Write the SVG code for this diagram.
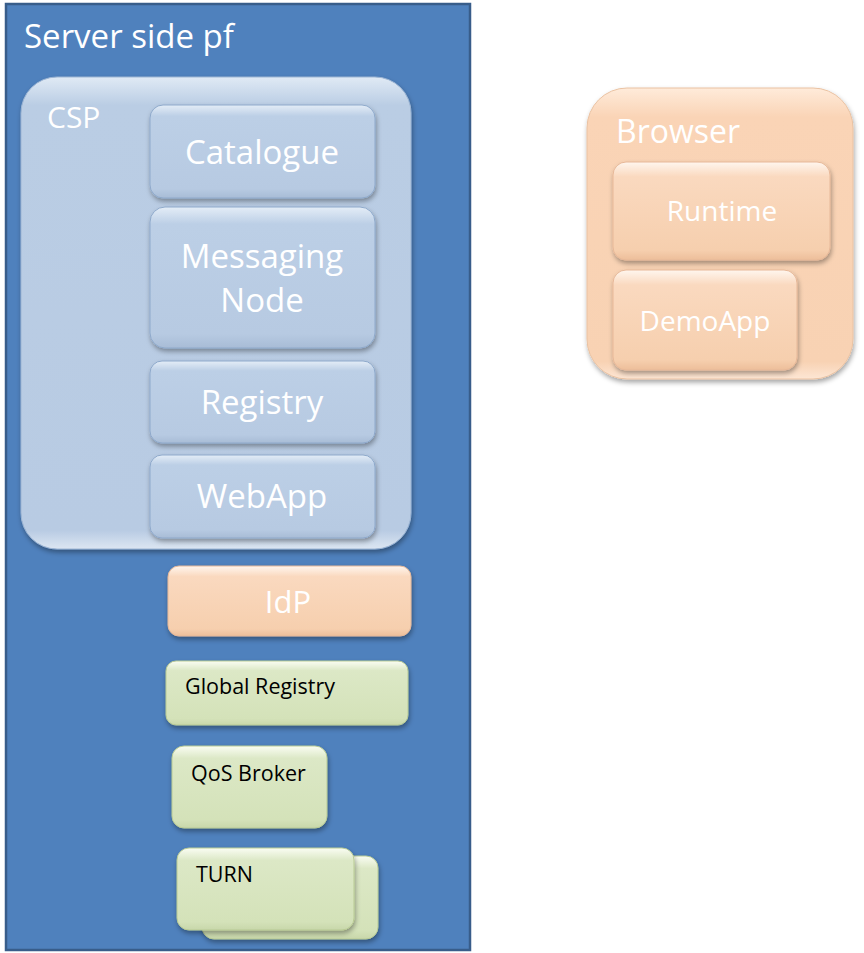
<svg xmlns="http://www.w3.org/2000/svg" width="864" height="953" viewBox="0 0 864 953">
<defs>
<style>
.t{font-family:"Open Sans","Noto Sans","Liberation Sans",sans-serif;fill:#fff}
.k{font-family:"Open Sans","Noto Sans","Liberation Sans",sans-serif;fill:#000;font-size:21.5px}
.blue{fill:url(#gb);stroke:#8EA9CB;stroke-width:1}
.peach{fill:url(#gp);stroke:#E7B898;stroke-width:1}
.green{fill:url(#gg);stroke:#B9CB94;stroke-width:1}
</style>
<linearGradient id="gb" x1="0" y1="0" x2="0" y2="1">
<stop offset="0" stop-color="#E4EDF7"/><stop offset="0.12" stop-color="#BCCFE6"/><stop offset="0.9" stop-color="#B7CAE2"/><stop offset="1" stop-color="#A8BCD6"/>
</linearGradient>
<linearGradient id="gp" x1="0" y1="0" x2="0" y2="1">
<stop offset="0" stop-color="#FFF6EE"/><stop offset="0.15" stop-color="#FAD9BF"/><stop offset="0.9" stop-color="#F6CFAE"/><stop offset="1" stop-color="#EDBE9A"/>
</linearGradient>
<linearGradient id="gg" x1="0" y1="0" x2="0" y2="1">
<stop offset="0" stop-color="#FAFDF3"/><stop offset="0.15" stop-color="#DCE8C6"/><stop offset="0.9" stop-color="#D4E2B9"/><stop offset="1" stop-color="#C8D7AA"/>
</linearGradient>
<linearGradient id="gcsp" x1="0" y1="0" x2="0" y2="1">
<stop offset="0" stop-color="#E0EAF5"/><stop offset="0.06" stop-color="#BACDE4"/><stop offset="0.96" stop-color="#B8CBE3"/><stop offset="1" stop-color="#DCE6F2"/>
</linearGradient>
<linearGradient id="gbr" x1="0" y1="0" x2="0" y2="1">
<stop offset="0" stop-color="#FFEBDA"/><stop offset="0.1" stop-color="#FAD4B6"/><stop offset="0.94" stop-color="#F8D2B3"/><stop offset="1" stop-color="#FDE6D4"/>
</linearGradient>
<filter id="sh" x="-10%" y="-10%" width="120%" height="130%">
<feDropShadow dx="1" dy="3" stdDeviation="2.5" flood-color="#000" flood-opacity="0.35"/>
</filter>
</defs>

<g id="server">
<rect x="6" y="4" width="464" height="946" fill="#4F81BD" stroke="#385D8A" stroke-width="2.5"/>
<text class="t" x="24" y="48" font-size="33">Server side pf</text>
</g>

<g id="csp">
<rect x="21" y="77" width="390" height="472" rx="36" fill="url(#gcsp)" stroke="#9DB5D3" filter="url(#sh)"/>
<text class="t" x="47" y="128" font-size="30">CSP</text>
</g>

<g id="catalogue">
<rect class="blue" x="150" y="105" width="225" height="93" rx="13" filter="url(#sh)"/>
<text class="t" x="262" y="164" font-size="33" text-anchor="middle">Catalogue</text>
</g>

<g id="messaging">
<rect class="blue" x="150" y="207" width="225" height="141" rx="15" filter="url(#sh)"/>
<text class="t" x="262" y="268" font-size="33" text-anchor="middle">Messaging</text>
<text class="t" x="262" y="312" font-size="33" text-anchor="middle">Node</text>
</g>

<g id="registry">
<rect class="blue" x="150" y="361" width="225" height="82" rx="12" filter="url(#sh)"/>
<text class="t" x="262" y="414" font-size="33" text-anchor="middle">Registry</text>
</g>

<g id="webapp">
<rect class="blue" x="150" y="455" width="225" height="83" rx="12" filter="url(#sh)"/>
<text class="t" x="262" y="508" font-size="33" text-anchor="middle">WebApp</text>
</g>

<g id="idp">
<rect class="peach" x="168" y="566" width="243" height="70" rx="11" filter="url(#sh)"/>
<text class="t" x="288" y="613" font-size="31" text-anchor="middle">IdP</text>
</g>

<g id="globalregistry">
<rect class="green" x="166" y="661" width="242" height="64" rx="10" filter="url(#sh)"/>
<text class="k" x="185" y="694">Global Registry</text>
</g>

<g id="qos">
<rect class="green" x="172" y="746" width="155" height="82" rx="12" filter="url(#sh)"/>
<text class="k" x="191" y="781">QoS Broker</text>
</g>

<g id="turn">
<rect class="green" x="202" y="856" width="176" height="83" rx="12" filter="url(#sh)"/>
<rect class="green" x="177" y="848" width="177" height="82" rx="12" filter="url(#sh)"/>
<text class="k" x="196" y="882">TURN</text>
</g>

<g id="browser">
<rect x="587" y="88" width="266" height="291" rx="40" fill="url(#gbr)" stroke="#EAC2A2" filter="url(#sh)"/>
<text class="t" x="616" y="143" font-size="32">Browser</text>
</g>

<g id="runtime">
<rect class="peach" x="613" y="162" width="217" height="98" rx="13" filter="url(#sh)"/>
<text class="t" x="722" y="221" font-size="28" text-anchor="middle">Runtime</text>
</g>

<g id="demoapp">
<rect class="peach" x="613" y="270" width="184" height="100" rx="13" filter="url(#sh)"/>
<text class="t" x="705" y="331" font-size="28" text-anchor="middle">DemoApp</text>
</g>

<g id="connectors"/>
</svg>
